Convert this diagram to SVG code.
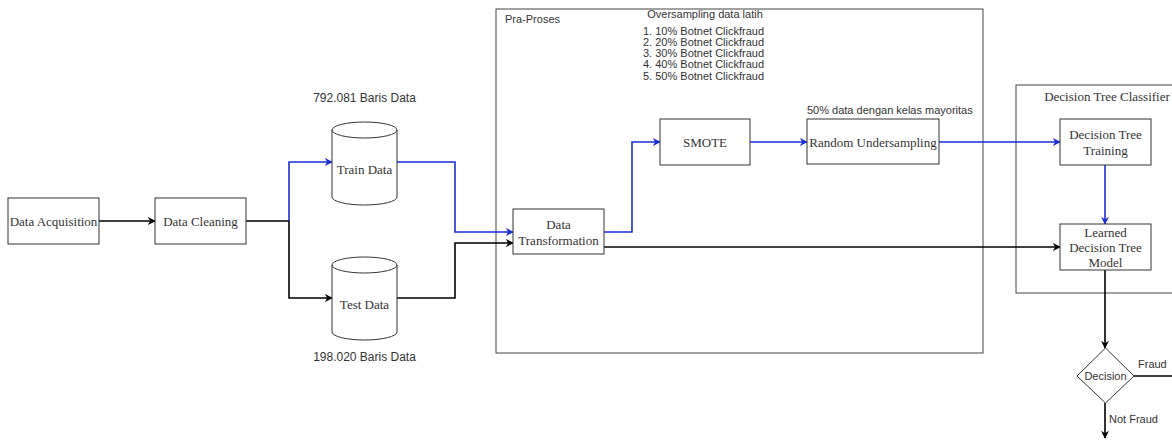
<svg xmlns="http://www.w3.org/2000/svg" width="1172" height="440" viewBox="0 0 1172 440">
<defs>
<marker id="ab" viewBox="0 0 10 10" refX="9" refY="5" markerWidth="8" markerHeight="8" markerUnits="userSpaceOnUse" orient="auto"><path d="M0,0 L10,5 L0,10 L3,5 z" fill="#000"/></marker>
<marker id="au" viewBox="0 0 10 10" refX="9" refY="5" markerWidth="8" markerHeight="8" markerUnits="userSpaceOnUse" orient="auto"><path d="M0,0 L10,5 L0,10 L3,5 z" fill="#1a2fd4"/></marker>
<style>
.box{fill:#fff;stroke:#333;stroke-width:1}
.cont{fill:none;stroke:#444;stroke-width:1}
.t{font-family:"Liberation Serif",serif;font-size:13px;fill:#333;text-anchor:middle}
.s{font-family:"Liberation Sans",Arial,sans-serif;font-size:11px;fill:#333}
.k{fill:none;stroke:#000;stroke-width:1.6}
.b{fill:none;stroke:#1a2fd4;stroke-width:1.6}
</style>
</defs>
<rect width="1172" height="440" fill="#fff"/>
<g id="pra-proses"><rect class="cont" x="496" y="9" width="487" height="344"/><text class="s" x="505" y="23">Pra-Proses</text></g>
<g id="dtc"><rect class="cont" x="1016" y="85" width="170" height="208"/><text class="t" x="1107" y="101">Decision Tree Classifier</text></g>
<g id="connectors">
<path class="k" d="M99,221 H155" marker-end="url(#ab)"/>
<path class="k" d="M246,221 H289 V298 H332" marker-end="url(#ab)"/>
<path class="b" d="M289,221 V162 H332" marker-end="url(#au)"/>
<path class="b" d="M397,162 H455 V232 H513" marker-end="url(#au)"/>
<path class="k" d="M397,298 H455 V243 H513" marker-end="url(#ab)"/>
<path class="b" d="M604,232 H632 V142 H660" marker-end="url(#au)"/>
<path class="b" d="M750,142 H807" marker-end="url(#au)"/>
<path class="b" d="M939,142 H1060" marker-end="url(#au)"/>
<path class="b" d="M1105,165 V224" marker-end="url(#au)"/>
<path class="k" d="M604,247 H1060" marker-end="url(#ab)"/>
<path class="k" d="M1105,270 V348" marker-end="url(#ab)"/>
<path class="k" d="M1134,376 H1172"/>
<path class="k" d="M1105,403 V438" marker-end="url(#ab)"/>
<text class="s" x="1138" y="368">Fraud</text>
<text class="s" x="1109" y="423">Not Fraud</text>
</g>
<g id="data-acquisition"><rect class="box" x="8" y="198" width="91" height="46"/><text class="t" x="53.5" y="225.5">Data Acquisition</text></g>
<g id="data-cleaning"><rect class="box" x="155" y="198" width="91" height="46"/><text class="t" x="200.5" y="225.5">Data Cleaning</text></g>
<g id="train-data"><path class="box" d="M332,130 A32.5,8 0 0 1 397,130 V197 A32.5,8 0 0 1 332,197 Z"/><path class="box" style="fill:none" d="M332,130 A32.5,8 0 0 0 397,130"/><text class="t" x="364.5" y="174">Train Data</text><text class="s" x="364.5" y="102" text-anchor="middle" style="font-size:12px">792.081 Baris Data</text></g>
<g id="test-data"><path class="box" d="M332,265 A32.5,8 0 0 1 397,265 V332 A32.5,8 0 0 1 332,332 Z"/><path class="box" style="fill:none" d="M332,265 A32.5,8 0 0 0 397,265"/><text class="t" x="364.5" y="309">Test Data</text><text class="s" x="364.5" y="361" text-anchor="middle" style="font-size:12px">198.020 Baris Data</text></g>
<g id="data-transformation"><rect class="box" x="513" y="209" width="91" height="45"/><text class="t" x="558.5" y="229">Data</text><text class="t" x="558.5" y="245">Transformation</text></g>
<g id="smote"><rect class="box" x="660" y="119" width="90" height="46"/><text class="t" x="705" y="146.5">SMOTE</text>
<text class="s" x="705" y="18" text-anchor="middle">Oversampling data latih</text>
<text class="s" x="643" y="35">1. 10% Botnet Clickfraud</text>
<text class="s" x="643" y="46">2. 20% Botnet Clickfraud</text>
<text class="s" x="643" y="57">3. 30% Botnet Clickfraud</text>
<text class="s" x="643" y="68">4. 40% Botnet Clickfraud</text>
<text class="s" x="643" y="80">5. 50% Botnet Clickfraud</text></g>
<g id="random-undersampling"><rect class="box" x="807" y="119" width="132" height="45"/><text class="t" x="873" y="146.5">Random Undersampling</text><text class="s" x="807" y="114">50% data dengan kelas mayoritas</text></g>
<g id="dt-training"><rect class="box" x="1060" y="119" width="91" height="46"/><text class="t" x="1105.5" y="139">Decision Tree</text><text class="t" x="1105.5" y="155">Training</text></g>
<g id="learned-model"><rect class="box" x="1060" y="224" width="91" height="46"/><text class="t" x="1105.5" y="237">Learned</text><text class="t" x="1105.5" y="252">Decision Tree</text><text class="t" x="1105.5" y="267">Model</text></g>
<g id="decision"><path class="box" d="M1105.5,348 L1134,376 L1105.5,403 L1077,376 Z"/><text class="s" x="1105.5" y="380" text-anchor="middle">Decision</text></g>
</svg>
